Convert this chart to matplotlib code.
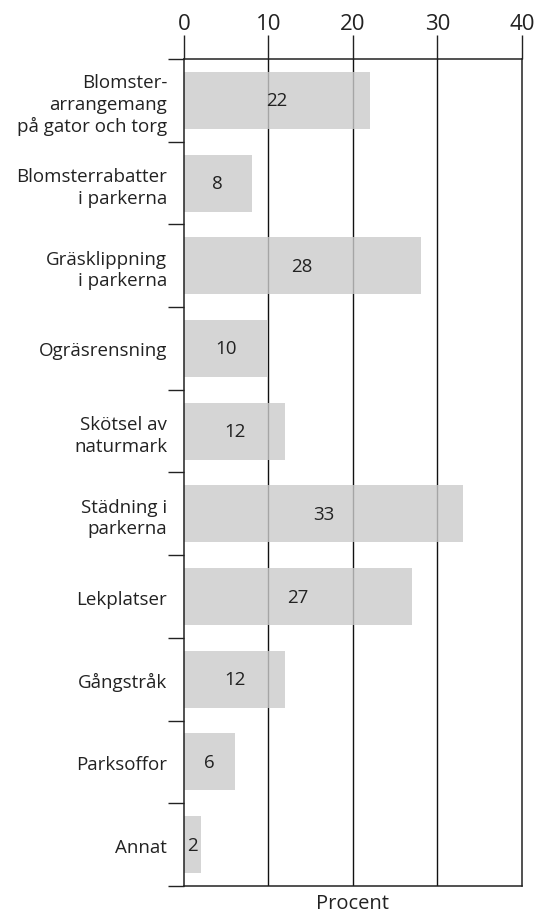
import numpy as np
import matplotlib.pyplot as plt

#------------------------------------------------------------------------ data
categories = ["Blomster-\narrangemang\npå gator och torg",
              "Blomsterrabatter\ni parkerna",
              "Gräsklippning\ni parkerna",
              "Ogräsrensning",
              "Skötsel av\nnaturmark",
              "Städning i\nparkerna",
              "Lekplatser",
              "Gångstråk",
              "Parksoffor",
              "Annat"]
values = [22, 8, 28, 10, 12, 33, 27, 12, 6, 2]
x_ticks = [0, 10, 20, 30, 40]

#------------------------------------------------------------------------ plot
plt.rcParams['font.family'] = ['Open Sans', 'DejaVu Sans']

fig = plt.figure(figsize=(5.38, 9.2), dpi=100)
ax = fig.add_axes([0.342, 0.0359, 0.628, 0.8989])

y = np.arange(len(categories))

# gridlines below the (semi transparent) bars
for xv in x_ticks[1:-1]:
    ax.axvline(xv, color='#111111', lw=1.0, zorder=1)

ax.barh(y, values, height=0.69, color='#cbcbcb', alpha=0.8, zorder=2)

for yi, v in zip(y, values):
    ax.text(v / 2, yi, str(v), ha='center', va='center',
            fontsize=13.5, color='#222222', zorder=3)

ax.set_xlim(0, 40)
ax.set_ylim(len(categories) - 0.5, -0.5)

ax.xaxis.tick_top()
ax.set_xticks(x_ticks)
ax.tick_params(axis='x', direction='out', length=17, width=1,
               labelsize=16, pad=1, colors='#222222')

ax.set_yticks(y)
ax.set_yticklabels(categories, fontsize=13.5, linespacing=1.25, color='#222222')
ax.tick_params(axis='y', which='major', length=0, pad=12)
ax.set_yticks(np.arange(-0.5, len(categories), 1), minor=True)
ax.tick_params(axis='y', which='minor', length=11.5, width=1, color='#222222')

for side in ['top', 'bottom', 'left', 'right']:
    ax.spines[side].set_color('#222222')
    ax.spines[side].set_linewidth(1.1)

ax.text(0.5, -0.009, 'Procent', transform=ax.transAxes, ha='center',
        va='top', fontsize=14.5, color='#222222')

plt.savefig('out.png', dpi=100)
